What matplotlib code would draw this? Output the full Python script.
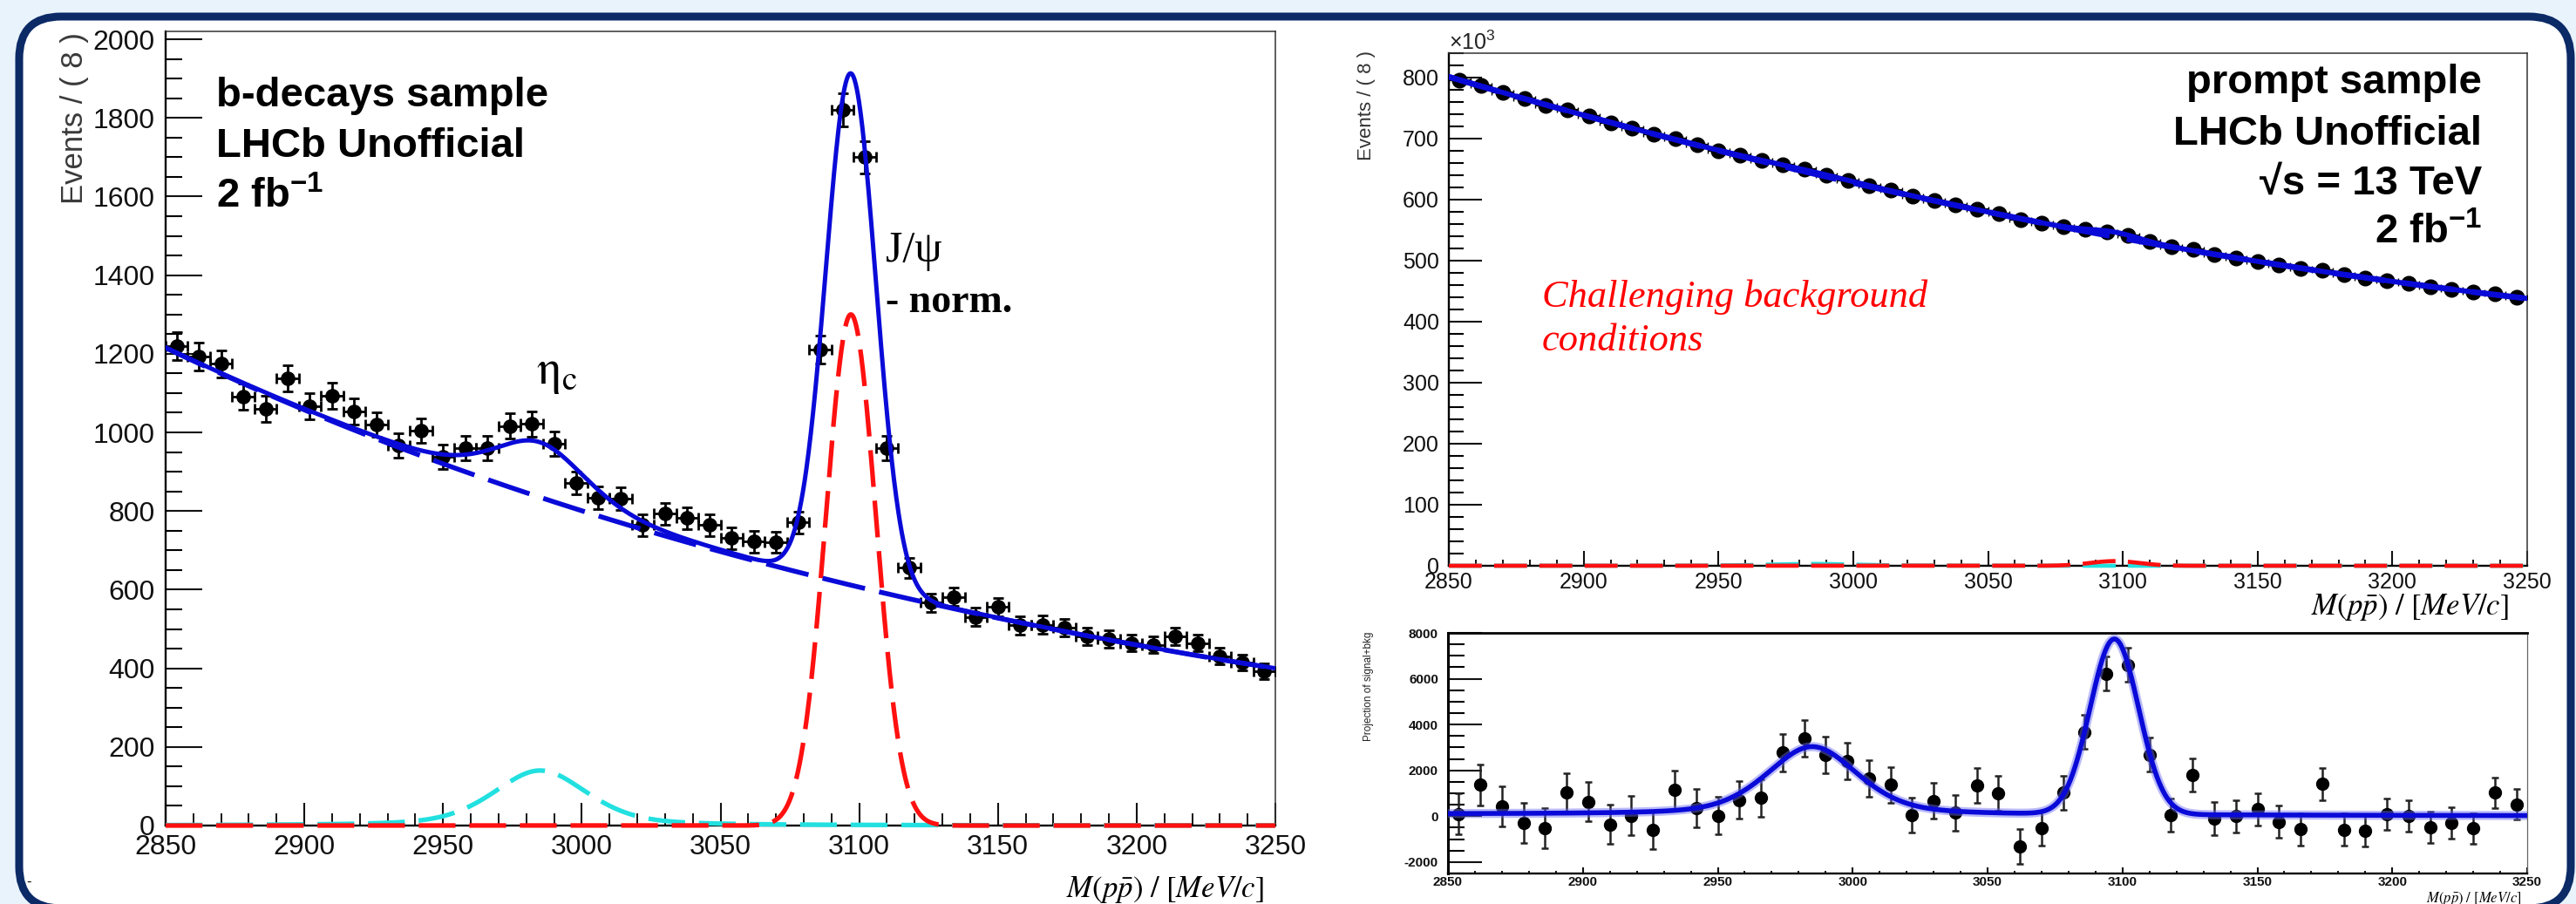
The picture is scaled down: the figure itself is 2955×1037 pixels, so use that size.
import numpy as np
import matplotlib.pyplot as plt
from matplotlib.patches import FancyBboxPatch
from matplotlib.transforms import IdentityTransform
from matplotlib.ticker import MultipleLocator

W, H = 2955, 1037
DPI = 100

plt.rcParams['font.family'] = ['Liberation Sans', 'DejaVu Sans']
plt.rcParams['mathtext.fontset'] = 'custom'
plt.rcParams['mathtext.rm'] = 'Liberation Sans'
plt.rcParams['mathtext.bf'] = 'Liberation Sans:bold'
plt.rcParams['mathtext.it'] = 'Liberation Sans:italic'
plt.rcParams['axes.unicode_minus'] = False

# bin centres, 8 MeV bins from 2850 to 3250
mass = np.arange(2854, 3250, 8)

# b-decays sample, events / 8 MeV
bdecay_counts = [1220, 1193, 1175, 1091, 1060, 1138, 1067, 1093, 1053, 1020,
                 967, 1004, 938, 960, 960, 1016, 1022, 971, 871, 833,
                 831, 764, 793, 782, 764, 731, 722, 720, 771, 1211,
                 1820, 1700, 960, 656, 567, 582, 531, 556, 509, 511,
                 504, 482, 475, 464, 460, 482, 464, 431, 415, 393]

# prompt sample, events / 8 MeV in units of 10^3
prompt_counts = [796.1, 787.1, 775.9, 765.1, 754.9, 746.6, 736.5, 725.9, 716.9, 707.0,
                 699.5, 689.6, 680.4, 672.3, 663.7, 657.2, 649.4, 640.4, 631.9, 623.2,
                 615.0, 605.9, 598.9, 590.9, 584.6, 577.0, 567.6, 561.4, 556.0, 551.9,
                 547.8, 541.7, 531.4, 522.6, 518.2, 510.3, 504.5, 499.1, 493.0, 487.1,
                 483.8, 476.6, 471.5, 467.2, 462.3, 457.1, 452.7, 448.1, 445.3, 440.6]

# prompt sample after background subtraction
prompt_resid = [100, 1370, 420, -290, -530, 1020, 635, -355, 25, -610,
                1140, 350, 25, 700, 800, 2770, 3390, 2690, 2410, 1650,
                1370, 50, 670, 150, 1330, 990, -1310, -530, 1020, 3680,
                6220, 6600, 2690, 50, 1800, -100, 0, 300, -250, -570,
                1400, -580, -630, 75, 25, -480, -300, -530, 1020, 510]

# fit results
etac_mass, etac_fwhm, etac_lfrac = 2985, 40, 0.4
jpsi_mass, jpsi_sigma = 3097, 9
bd_bkg_n0, bd_bkg_slope = 1215, 0.00278      # exponential from 2850
bd_etac_h, bd_jpsi_h = 140, 1300
pr_bkg = [796, -1.3, 0.001]                   # quadratic about 2854, x10^3
pr_etac_h, pr_jpsi_h = 2.97, 7.65             # x10^3
res_base = [90, 20]                           # residual baseline at 2850 / 3250

xticks = [2850, 2900, 2950, 3000, 3050, 3100, 3150, 3200, 3250]

BLUE = '#0a0ad8'
RED = '#ff1010'
CYAN = '#22e0e0'


def gauss(x, m, s):
    return np.exp(-0.5 * ((x - m) / s) ** 2)


def pvoigt(x, m, fwhm, frac):
    return frac / (1 + ((x - m) / (fwhm / 2)) ** 2) + (1 - frac) * gauss(x, m, fwhm / 2.3548)


def fx(px):
    return px / W


def fy(py):
    return 1 - py / H


def style_axes(ax, ymaj, ymin, ylen, xlen, lsize, ypad, xpad):
    ax.set_xlim(2850, 3250)
    ax.xaxis.set_major_locator(MultipleLocator(50))
    ax.xaxis.set_minor_locator(MultipleLocator(10))
    ax.yaxis.set_major_locator(MultipleLocator(ymaj))
    ax.yaxis.set_minor_locator(MultipleLocator(ymin))
    ax.tick_params(axis='y', which='major', direction='in', length=ylen[0], width=1.5,
                   labelsize=lsize, pad=ypad, right=False, colors='#111')
    ax.tick_params(axis='y', which='minor', direction='in', length=ylen[1], width=1.5, right=False)
    ax.tick_params(axis='x', which='major', direction='in', length=xlen[0], width=1.5,
                   labelsize=lsize, pad=xpad, top=False, colors='#111')
    ax.tick_params(axis='x', which='minor', direction='in', length=xlen[1], width=1.3, top=False)
    for s in ['left', 'bottom']:
        ax.spines[s].set_linewidth(1.7)
    for s in ['top', 'right']:
        ax.spines[s].set_linewidth(1.1)
        ax.spines[s].set_color('#333')


fig = plt.figure(figsize=(W / DPI, H / DPI), dpi=DPI, facecolor='#e9f3fc')

frame = FancyBboxPatch((22, H - 1042), 2927, 1042 - 19,
                       boxstyle="round,pad=0,rounding_size=48",
                       transform=IdentityTransform(), facecolor='white',
                       edgecolor='#0b2a66', linewidth=6.5, zorder=-1)
fig.add_artist(frame)

xf = np.linspace(2850, 3250, 2000)

# ---------------- left: b-decays sample ----------------
ax1 = fig.add_axes([fx(190), fy(947), 1273 / W, 911 / H])
ax1.set_ylim(0, 2020)
style_axes(ax1, 200, 50, (30, 14), (19, 10), 23, 9, 7)

counts = np.array(bdecay_counts, dtype=float)
ax1.errorbar(mass, counts, xerr=4, yerr=np.sqrt(counts), fmt='o', ms=11,
             color='black', ecolor='black', elinewidth=2.0, capsize=4, capthick=2.0, zorder=3)

bkg1 = bd_bkg_n0 * np.exp(-bd_bkg_slope * (xf - 2850))
eta1 = bd_etac_h * pvoigt(xf, etac_mass, etac_fwhm, etac_lfrac)
jps1 = bd_jpsi_h * gauss(xf, jpsi_mass, jpsi_sigma)
ax1.plot(xf, eta1, color=CYAN, lw=3.8, dashes=(8, 3), clip_on=False, zorder=4)
ax1.plot(xf, jps1, color=RED, lw=3.8, dashes=(8, 3), clip_on=False, zorder=4)
ax1.plot(xf, bkg1, color=BLUE, lw=4.0, dashes=(9, 3), zorder=5)
ax1.plot(xf, bkg1 + eta1 + jps1, color=BLUE, lw=3.6, zorder=6)

fig.text(fx(86), fy(37), "Events / ( 8 )", rotation=90, ha='center', va='top',
         fontsize=25, color='#3a3a3a')
fig.text(fx(1450), fy(1020), r"$M(p\bar{p})\ /\ [MeV/c]$", math_fontfamily='stix',
         fontsize=25, ha='right', va='center')

for txt, yb in [("b-decays sample", 122), ("LHCb Unofficial", 180), (r"2 fb$^{\mathbf{-1}}$", 238)]:
    fig.text(fx(248), fy(yb), txt, fontsize=34, fontweight='bold', va='baseline')

fig.text(fx(615), fy(440), r"$\mathrm{\eta_c}$", math_fontfamily='stix', fontsize=40, va='baseline')
fig.text(fx(1016), fy(300), "J/ψ", family=['Liberation Serif', 'DejaVu Serif'], fontsize=36, va='baseline')
fig.text(fx(1016), fy(358), "- norm.", family='Liberation Serif', fontweight='bold',
         fontsize=33, va='baseline')
fig.text(fx(30), fy(1012), "-", fontsize=12, va='center')

# ---------------- right top: prompt sample ----------------
ax2 = fig.add_axes([fx(1662), fy(649), 1237 / W, 588 / H])
ax2.set_ylim(0, 840)
style_axes(ax2, 100, 20, (27, 12), (12, 5), 18, 8, 5)

pc = np.array(prompt_counts)
ax2.errorbar(mass, pc, xerr=4, yerr=np.sqrt(pc * 1e3) / 1e3, fmt='o', ms=12,
             color='black', ecolor='black', elinewidth=1.6, capsize=2, zorder=3)

d = xf - 2854
bkg2 = pr_bkg[0] + pr_bkg[1] * d + pr_bkg[2] * d ** 2
eta2 = pr_etac_h * pvoigt(xf, etac_mass, etac_fwhm, etac_lfrac)
jps2 = pr_jpsi_h * gauss(xf, jpsi_mass, jpsi_sigma)
ax2.plot(xf, eta2, color=CYAN, lw=3.4, dashes=(8, 3), clip_on=False, zorder=4)
ax2.plot(xf, jps2, color=RED, lw=3.4, dashes=(8, 3), clip_on=False, zorder=4)
ax2.plot(xf, bkg2, color=BLUE, lw=4.8, dashes=(9, 3), zorder=5)
ax2.plot(xf, bkg2 + eta2 + jps2, color=BLUE, lw=4.2, zorder=6)

fig.text(fx(1662), fy(57), "×10$^{3}$", fontsize=18, va='baseline', color='#222')
fig.text(fx(1568), fy(58), "Events / ( 8 )", rotation=90, ha='center', va='top',
         fontsize=16, color='#333')
fig.text(fx(2878), fy(697), r"$M(p\bar{p})\ /\ [MeV/c]$", math_fontfamily='stix',
         fontsize=25, ha='right', va='center')

for txt, yb in [("prompt sample", 107), ("LHCb Unofficial", 166),
                ("√s = 13 TeV", 223), (r"2 fb$^{\mathbf{-1}}$", 279)]:
    fig.text(fx(2847), fy(yb), txt, fontsize=34, fontweight='bold', ha='right', va='baseline')

fig.text(fx(1769), fy(352), "Challenging background", family='Liberation Serif',
         style='italic', fontsize=32, color='#ff0000', va='baseline')
fig.text(fx(1769), fy(402), "conditions", family='Liberation Serif',
         style='italic', fontsize=32, color='#ff0000', va='baseline')

# ---------------- right bottom: background subtracted ----------------
ax3 = fig.add_axes([fx(1661), fy(1002), 1238 / W, 276 / H])
ax3.set_ylim(-2500, 8000)
style_axes(ax3, 2000, 500, (28, 14), (5, 2.5), 11, 8, 2)
ax3.set_xticks(xticks, [str(t) for t in xticks], fontweight='bold')
ax3.set_yticks([-2000, 0, 2000, 4000, 6000, 8000],
               ['-2000', '0', '2000', '4000', '6000', '8000'], fontweight='bold')
ax3.spines['top'].set_linewidth(2.0)
ax3.spines['top'].set_color('black')
ax3.spines['left'].set_linewidth(2.2)
ax3.spines['right'].set_linewidth(0.9)
ax3.spines['right'].set_color('#666')

resid = np.array(prompt_resid, dtype=float)
ax3.errorbar(mass, resid, yerr=np.sqrt(pc * 1e3), fmt='o', ms=10,
             color='black', ecolor='#222', elinewidth=1.8, capsize=3, capthick=1.8, zorder=3)

base3 = res_base[0] + (res_base[1] - res_base[0]) * (xf - 2850) / 400
tot3 = base3 + 1e3 * (eta2 + jps2)
ax3.plot(xf, tot3, color='#6a6af0', lw=7.5, alpha=0.45, zorder=4, solid_capstyle='butt')
ax3.plot(xf, tot3, color=BLUE, lw=4.0, zorder=5)

fig.text(fx(1570), fy(725), "Projection of signal+bkg", rotation=90, ha='center', va='top',
         fontsize=8.5, color='#222')
fig.text(fx(2893), fy(1031), r"$M(p\bar{p})\ /\ [MeV/c]$", math_fontfamily='stix',
         fontsize=12, ha='right', va='center')

fig.savefig('out.png', dpi=DPI, facecolor=fig.get_facecolor())
